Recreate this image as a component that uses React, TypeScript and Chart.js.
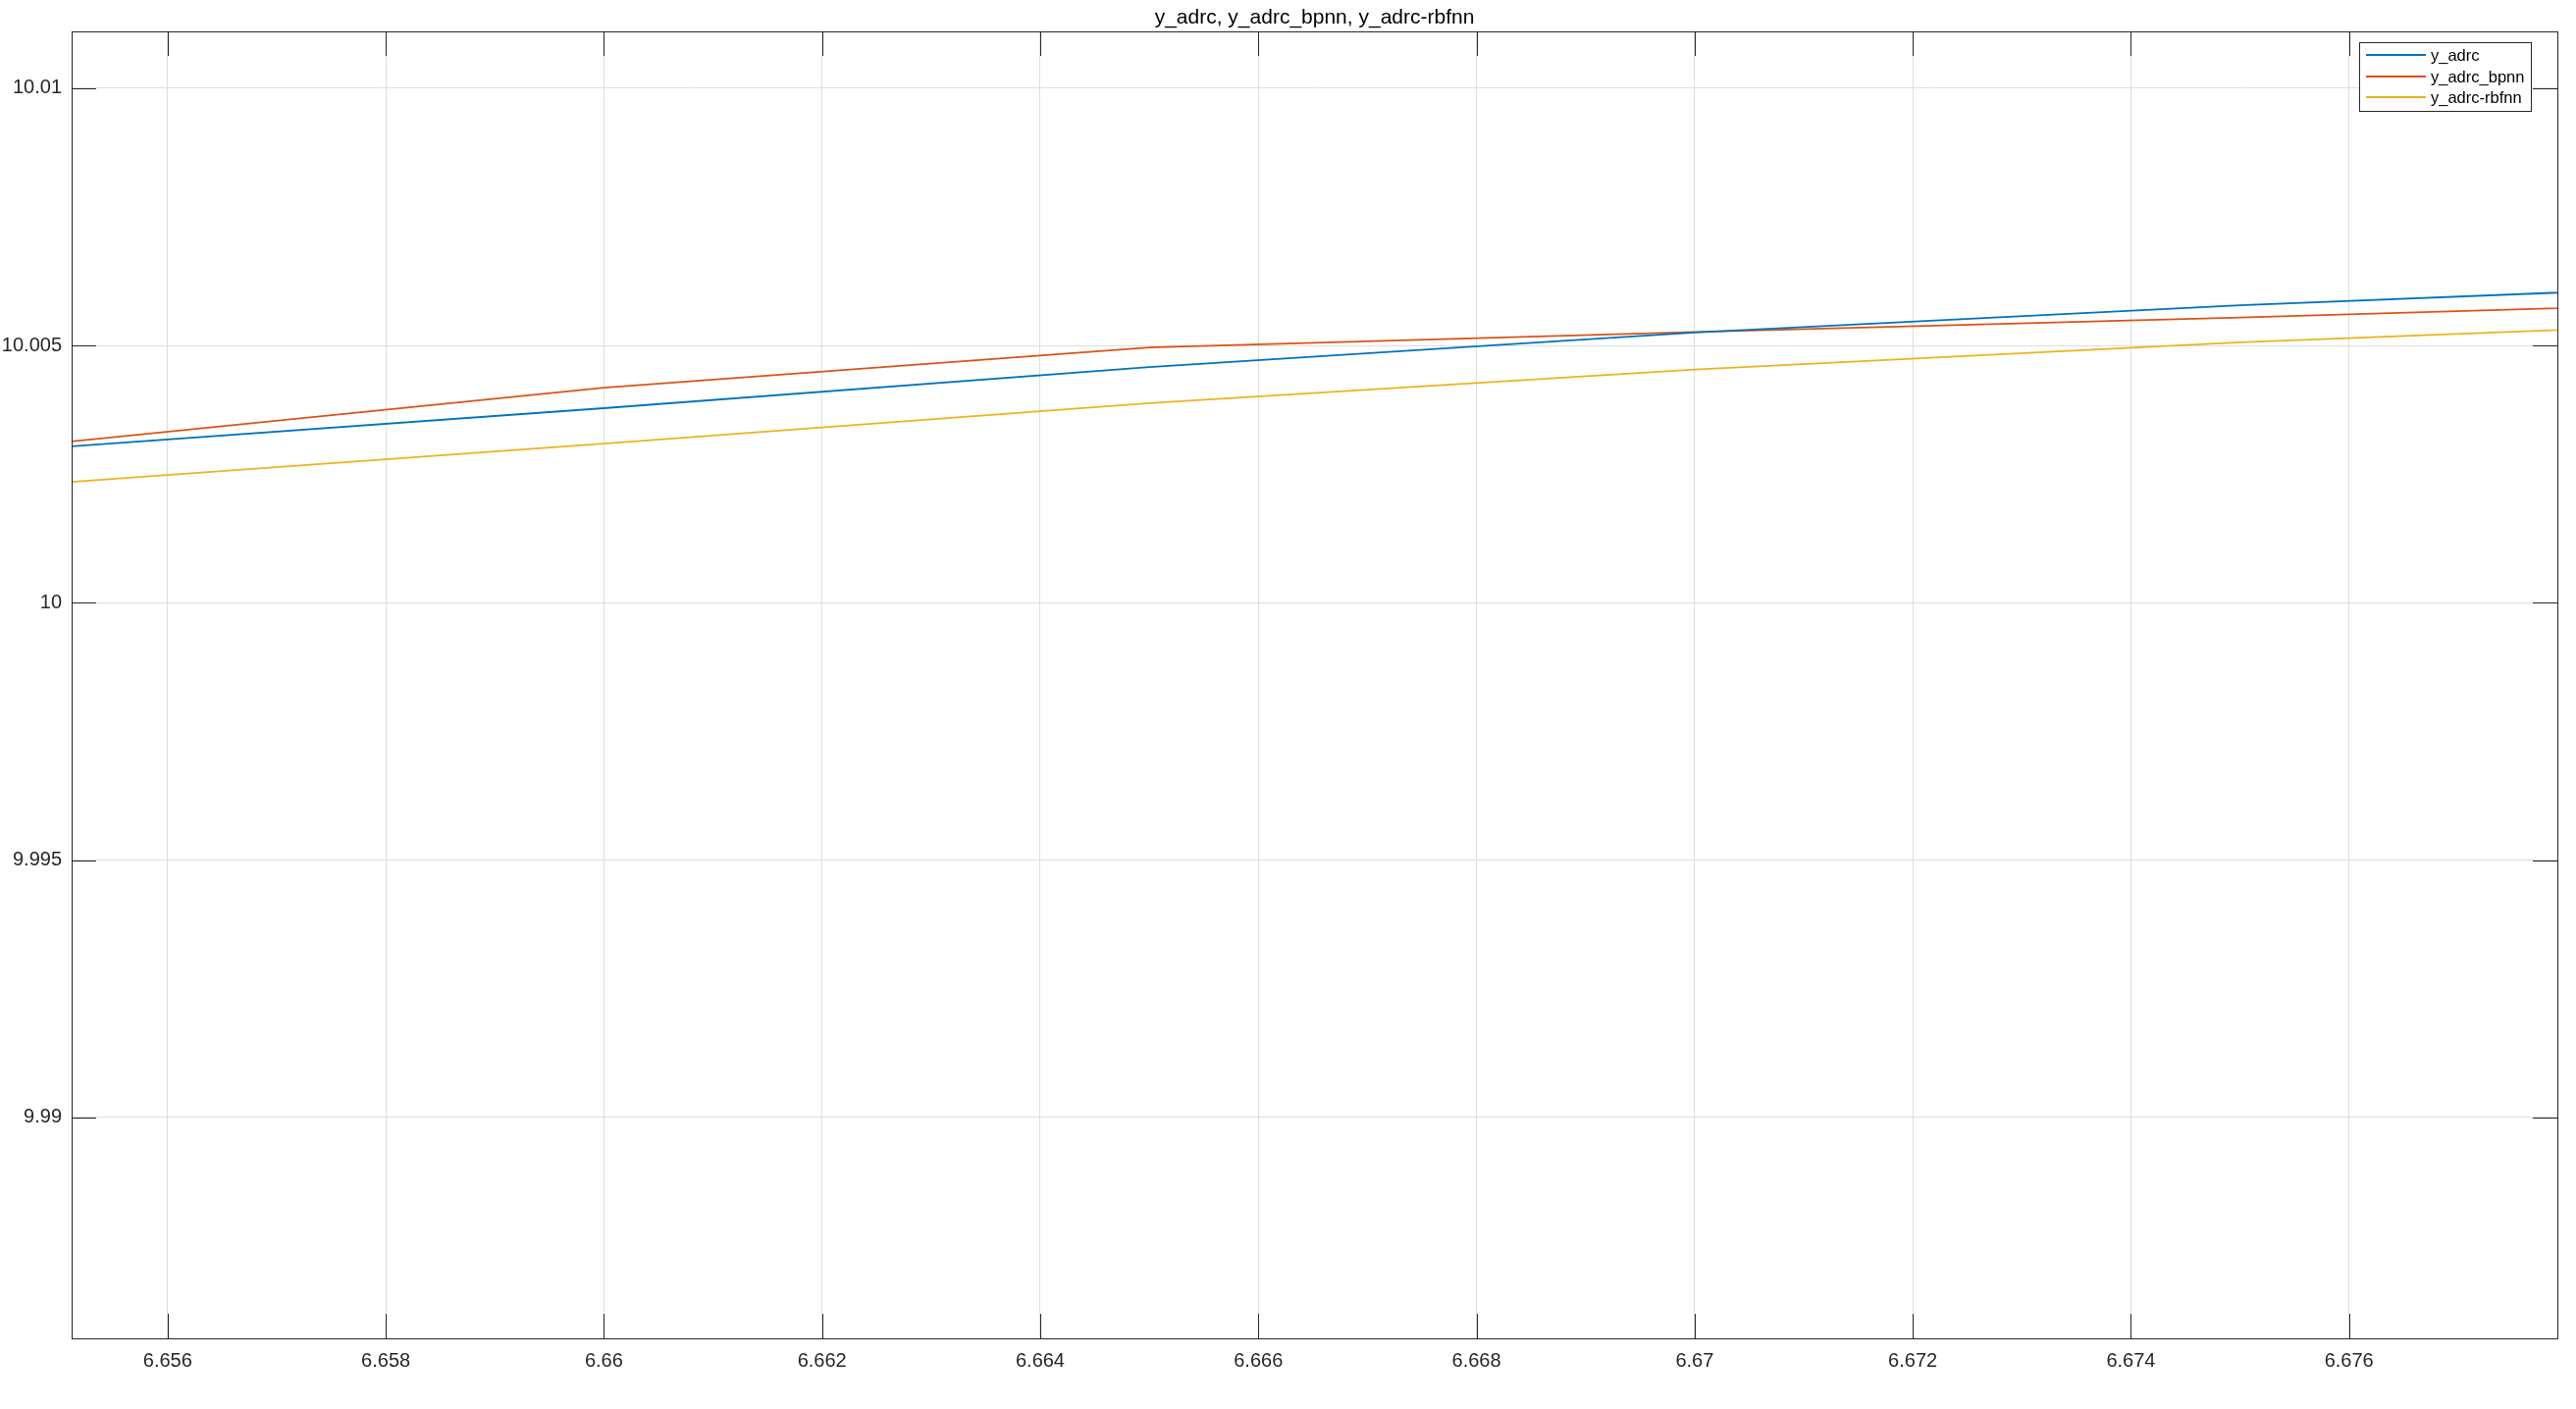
import React, { useEffect, useRef } from "react";
import { Chart, registerables } from "chart.js";

Chart.register(...registerables);

const titleText = "y_adrc, y_adrc_bpnn, y_adrc-rbfnn";
const seriesNames = ["y_adrc", "y_adrc_bpnn", "y_adrc-rbfnn"];
const seriesColors = ["#0072BD", "#D95319", "#EDB120"];

const xValues = [6.655, 6.66, 6.665, 6.67, 6.675, 6.68];
const yAdrc = [10.00302, 10.00378, 10.00458, 10.00525, 10.00578, 10.0062];
const yAdrcBpnn = [10.00311, 10.00418, 10.00496, 10.00526, 10.00554, 10.00585];
const yAdrcRbfnn = [10.00233, 10.00309, 10.00388, 10.00453, 10.00506, 10.00547];

const xTicks = [6.656, 6.658, 6.66, 6.662, 6.664, 6.666, 6.668, 6.67, 6.672, 6.674, 6.676];
const yTicks = [9.99, 9.995, 10, 10.005, 10.01];
const xRange = [6.65512, 6.67791];
const yRange = [9.98571, 10.0111];

const FONT = 'Arial, "Liberation Sans", Helvetica, sans-serif';
const AX = "#262626";

const fmt = (v: number) => String(parseFloat(v.toFixed(4)));

export default function App() {
  const ref = useRef<HTMLCanvasElement | null>(null);
  useEffect(() => {
    const canvas = ref.current!;
    const series = [yAdrc, yAdrcBpnn, yAdrcRbfnn];
    const matlabPlugin = {
      id: "matlab",
      afterDraw(chart: any) {
        const ctx = chart.ctx;
        const a = chart.chartArea;
        const xs = chart.scales.x;
        const ys = chart.scales.y;
        ctx.save();
        ctx.strokeStyle = AX;
        ctx.lineWidth = 1;
        const T = 25;
        ctx.beginPath();
        for (const v of xTicks) {
          const p = Math.round(xs.getPixelForValue(v)) + 0.5;
          ctx.moveTo(p, a.bottom);
          ctx.lineTo(p, a.bottom - T);
          ctx.moveTo(p, a.top);
          ctx.lineTo(p, a.top + T);
        }
        for (const v of yTicks) {
          const p = Math.round(ys.getPixelForValue(v)) + 0.5;
          ctx.moveTo(a.left, p);
          ctx.lineTo(a.left + T, p);
          ctx.moveTo(a.right, p);
          ctx.lineTo(a.right - T, p);
        }
        ctx.stroke();
        ctx.strokeRect(Math.round(a.left) + 0.5, Math.round(a.top) + 0.5, Math.round(a.right - a.left), Math.round(a.bottom - a.top));

        // title
        ctx.fillStyle = "#000";
        ctx.font = `21px ${FONT}`;
        ctx.textAlign = "center";
        ctx.textBaseline = "alphabetic";
        ctx.fillText(titleText, (a.left + a.right) / 2, 24);

        // legend
        const lx = 2404, ly = 43, lw = 175, lh = 70;
        ctx.fillStyle = "#fff";
        ctx.fillRect(lx, ly, lw, lh);
        ctx.strokeStyle = AX;
        ctx.strokeRect(lx + 0.5, ly + 0.5, lw, lh);
        const rows = [56, 78, 99];
        ctx.font = `16.5px ${FONT}`;
        ctx.textAlign = "left";
        ctx.textBaseline = "middle";
        seriesNames.forEach((n, i) => {
          ctx.strokeStyle = seriesColors[i];
          ctx.lineWidth = 1.8;
          ctx.beginPath();
          ctx.moveTo(2411, rows[i]);
          ctx.lineTo(2472, rows[i]);
          ctx.stroke();
          ctx.fillStyle = "#000";
          ctx.fillText(n, 2477, rows[i] + 1);
        });
        ctx.restore();
      },
    };
    const chart = new Chart(canvas, {
      type: "line",
      data: {
        datasets: series.map((s, i) => ({
          label: seriesNames[i],
          data: xValues.map((x, j) => ({ x, y: s[j] })),
          borderColor: seriesColors[i],
          backgroundColor: seriesColors[i],
          borderWidth: 1.8,
          pointRadius: 0,
          tension: 0,
          fill: false,
        })),
      },
      options: {
        animation: false,
        responsive: false,
        devicePixelRatio: 1,
        layout: { padding: { left: 0, right: 19, top: 32, bottom: 0 } },
        plugins: { legend: { display: false }, title: { display: false }, tooltip: { enabled: false } },
        scales: {
          x: {
            type: "linear",
            min: xRange[0],
            max: xRange[1],
            afterBuildTicks: (s: any) => {
              s.ticks = xTicks.map((v) => ({ value: v }));
            },
            afterFit: (s: any) => {
              s.height = 72;
            },
            grid: { color: "#dedede", lineWidth: 1, drawTicks: false },
            border: { display: false },
            ticks: {
              padding: 11,
              maxRotation: 0,
              autoSkip: false,
              color: AX,
              font: { family: FONT, size: 20 },
              callback: (v: any) => fmt(Number(v)),
            },
          },
          y: {
            type: "linear",
            min: yRange[0],
            max: yRange[1],
            afterBuildTicks: (s: any) => {
              s.ticks = yTicks.map((v) => ({ value: v }));
            },
            afterFit: (s: any) => {
              s.width = 73;
            },
            grid: { color: "#dedede", lineWidth: 1, drawTicks: false },
            border: { display: false },
            ticks: {
              padding: 10,
              autoSkip: false,
              color: AX,
              font: { family: FONT, size: 20 },
              callback: (v: any) => fmt(Number(v)),
            },
          },
        },
      },
      plugins: [matlabPlugin],
    } as any);
    return () => chart.destroy();
  }, []);
  return (
    <div style={{ position: "fixed", left: 0, top: 0, width: 2625, height: 1436, background: "#fff" }}>
      <canvas ref={ref} width={2625} height={1436} style={{ display: "block", width: 2625, height: 1436 }} />
    </div>
  );
}
